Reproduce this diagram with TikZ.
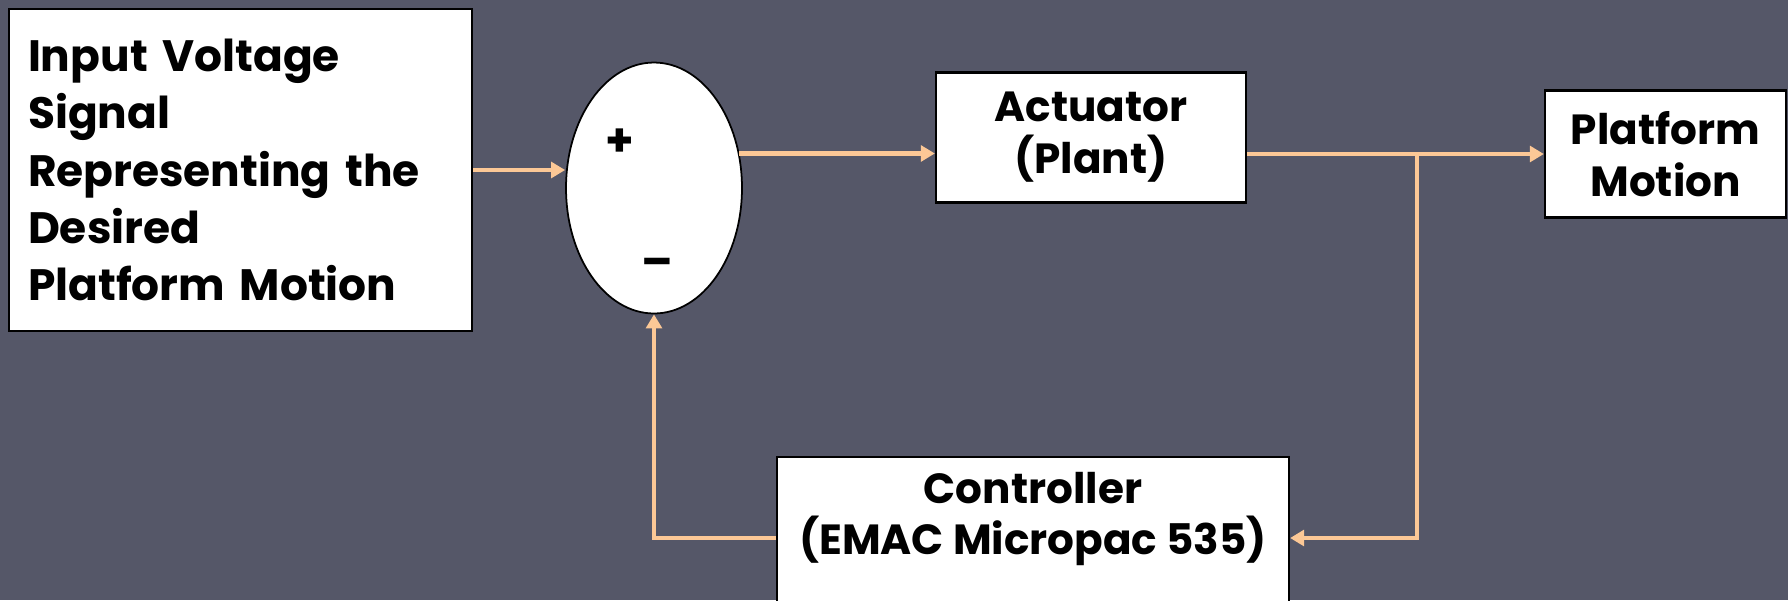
\documentclass[tikz,border=0pt]{standalone}
\usepackage{fontspec}
\setmainfont{Poppins}
\usetikzlibrary{shapes.geometric,arrows.meta,positioning,calc}
\definecolor{slidebg}{RGB}{85,87,104}
\definecolor{peach}{RGB}{252,200,150}
\tikzset{
  blockbox/.style={rectangle,draw=black,fill=white,line width=1.3pt,align=center,font=\fontsize{24}{29.5}\selectfont\bfseries},
  lbl/.style={align=center,font=\fontsize{24}{29.5}\selectfont\bfseries},
  sumnode/.style={ellipse,draw=black,fill=white,line width=1pt,minimum width=3.52cm,minimum height=5.02cm},
  signtext/.style={inner sep=0pt,font=\fontsize{26}{26}\selectfont\bfseries},
  sigline/.style={draw=peach,line width=2.6pt},
  sigarr/.style={sigline,-{Triangle[length=8pt,width=9pt]}}
}

\begin{document}
\begin{tikzpicture}[x=0.02cm,y=-0.02cm]
  \fill[slidebg] (0,0) rectangle (1788,600);
  \useasboundingbox (0,0) rectangle (1788,600);

  \node[blockbox,align=left,text width=8.5cm,minimum width=9.26cm,minimum height=6.44cm,
        font=\fontsize{25}{32.5}\selectfont\bfseries] (input) at (240.5,170)
        {Input Voltage\\Signal\\Representing the\\Desired\\Platform Motion};
  \node[sumnode] (sum) at (654,188) {};
  \node[signtext] (plus) at (620,143) {+};
  \node[signtext] (minus) at (657,268) {--};
  \node[blockbox,minimum width=6.2cm,minimum height=2.6cm] (act) at (1091,137.5) {Actuator\\(Plant)};
  \node[blockbox,minimum width=4.82cm,minimum height=2.54cm] (plat) at (1665.5,154) {Platform\\Motion};
  \node[blockbox,anchor=north,minimum width=10.24cm,minimum height=3.8cm] (ctrl) at (1033,456) {};
  \node[lbl] (ctrllbl) at (1033,519) {Controller\\(EMAC Micropac 535)};

  \coordinate (br) at (1417,154);
  \coordinate (fb) at (1417,538);

  \draw[sigarr] (input.east) -- (input.east -| sum.west);
  \draw[sigarr] (sum.22) -- (sum.22 -| act.west);
  \draw[sigline] (br -| act.east) -- (br);
  \draw[sigarr] (br) -- (plat.west);
  \draw[sigarr] (br) -- (fb) -- (fb -| ctrl.east);
  \draw[sigarr] (ctrl.west |- fb) -| (sum.south);
\end{tikzpicture}
\end{document}
